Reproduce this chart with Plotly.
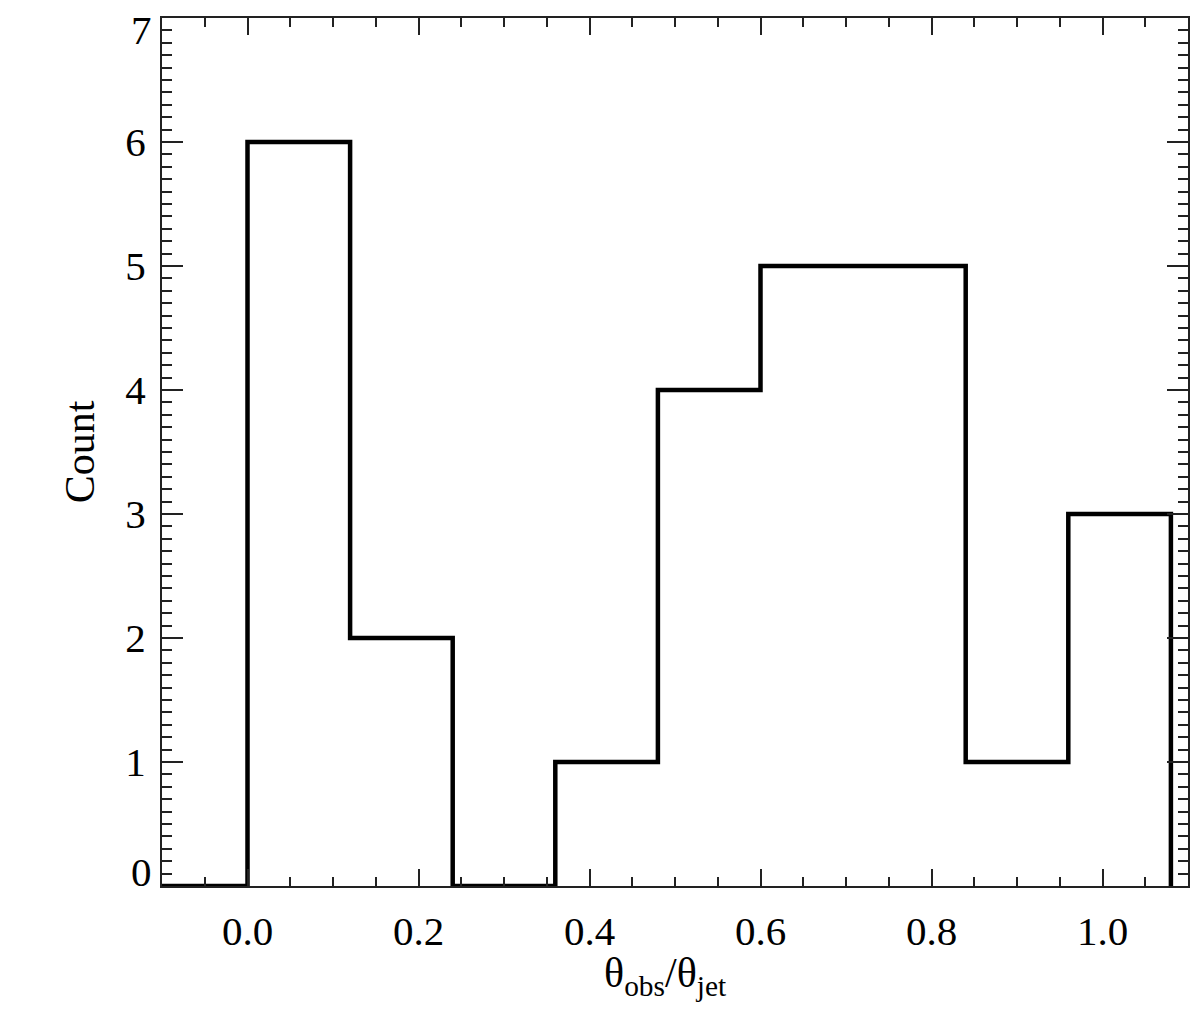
import plotly.graph_objects as go

# Histogram data
bin_edges = [0.0, 0.12, 0.24, 0.36, 0.48, 0.60, 0.72, 0.84, 0.96, 1.08]
counts = [6, 2, 0, 1, 4, 5, 5, 1, 3]
x_start = -0.1
x_tick_vals = [0.0, 0.2, 0.4, 0.6, 0.8, 1.0]
x_tick_text = ["0.0", "0.2", "0.4", "0.6", "0.8", "1.0"]
y_tick_vals = [1, 2, 3, 4, 5, 6]
y_tick_text = ["1", "2", "3", "4", "5", "6"]

# step outline: (x_start,0) -> each bin left edge with its count -> last edge back to 0
xs = [x_start] + bin_edges
ys = [0] + counts + [0]

FONT = "Liberation Serif"

fig = go.Figure()
fig.add_trace(go.Scatter(
    x=xs, y=ys, mode="lines", line_shape="hv",
    line=dict(color="black", width=4.5), cliponaxis=False,
    showlegend=False, hoverinfo="skip"))

# page body has an 8px margin; compensate so plot box sits where the original's does
fig.update_layout(
    width=1192, height=1021,
    margin=dict(l=154, r=12, t=10, b=143),
    paper_bgcolor="white", plot_bgcolor="white",
    font=dict(family=FONT, size=40, color="black"),
)

fig.update_xaxes(
    range=[-0.1, 1.1], showgrid=False, zeroline=False, automargin=False,
    showline=True, linecolor="#222", linewidth=2, mirror="ticks",
    ticks="inside", ticklen=17, tickwidth=2, tickcolor="#222",
    tickvals=x_tick_vals, ticktext=x_tick_text,
    tickfont=dict(family=FONT, size=41), ticklabelstandoff=8,
    minor=dict(dtick=0.05, tick0=0, ticks="inside", ticklen=9, tickwidth=2, tickcolor="#222"),
)
fig.update_yaxes(
    range=[0, 7], showgrid=False, zeroline=False, automargin=False,
    showline=True, linecolor="#222", linewidth=2, mirror="ticks",
    ticks="inside", ticklen=21, tickwidth=2, tickcolor="#222",
    tickvals=y_tick_vals, ticktext=y_tick_text,
    tickfont=dict(family=FONT, size=41), ticklabelstandoff=6,
    minor=dict(dtick=0.1, tick0=0, ticks="inside", ticklen=10, tickwidth=2, tickcolor="#222"),
    title=dict(text="Count", font=dict(family=FONT, size=42), standoff=18),
)

# x-axis title
fig.add_annotation(x=0.49, xref="paper", y=0, yref="paper",
                   text="θ<sub>obs</sub>/θ<sub>jet</sub>", showarrow=False,
                   xanchor="center", yanchor="middle", yshift=-90,
                   font=dict(family=FONT, size=42))

# end labels of y axis, nudged inside like the original
fig.add_annotation(x=0, xref="paper", y=0, yref="y", text="0", showarrow=False,
                   xanchor="right", xshift=-8, yshift=14, font=dict(family=FONT, size=41))
fig.add_annotation(x=0, xref="paper", y=7, yref="y", text="7", showarrow=False,
                   xanchor="right", xshift=-8, yshift=-12, font=dict(family=FONT, size=41))

fig.write_html("out.html")
